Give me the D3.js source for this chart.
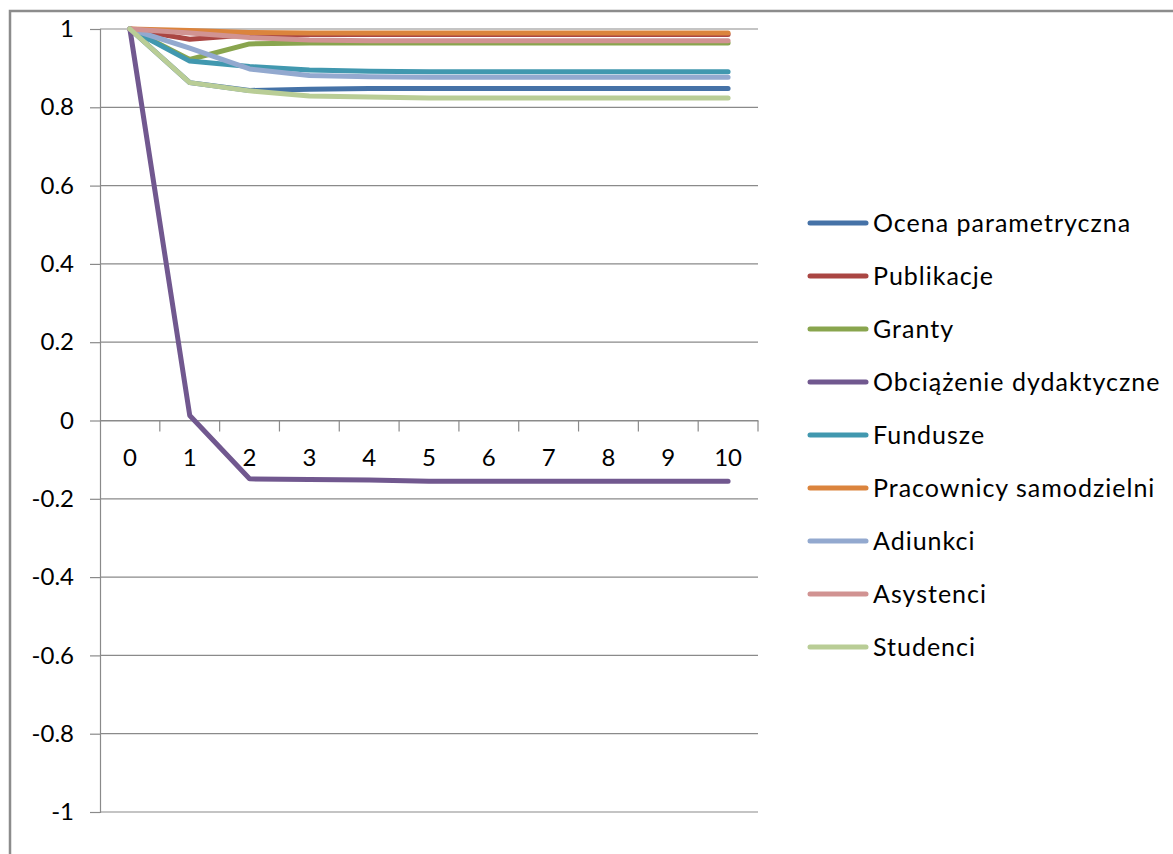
<!DOCTYPE html>
<html>
<head>
<meta charset="utf-8">
<script src="https://cdn.jsdelivr.net/npm/d3@7"></script>
<style>
  html, body { margin: 0; padding: 0; background: #fff; }
  svg { display: block; }
  text { font-family: Lato, "Open Sans", sans-serif; fill: #000; }
</style>
</head>
<body>
<svg id="chart" width="1173" height="854"></svg>
<script>
// ---- data ----
const categories = ["0","1","2","3","4","5","6","7","8","9","10"];
const yTicks = [-1, -0.8, -0.6, -0.4, -0.2, 0, 0.2, 0.4, 0.6, 0.8, 1];

const seriesNames = ["Ocena parametryczna","Publikacje","Granty","Obciążenie dydaktyczne","Fundusze","Pracownicy samodzielni","Adiunkci","Asystenci","Studenci"];
const seriesColors = ["#4572A7","#AA4643","#89A54E","#71588F","#4198AF","#DB843D","#93A9CF","#D19392","#B9CD96"];

const ocena      = [1, 0.863, 0.843, 0.846, 0.848, 0.848, 0.848, 0.848, 0.848, 0.848, 0.848];
const publikacje = [1, 0.974, 0.985, 0.986, 0.986, 0.986, 0.986, 0.986, 0.986, 0.986, 0.986];
const granty     = [1, 0.922, 0.962, 0.964, 0.964, 0.964, 0.964, 0.964, 0.964, 0.964, 0.964];
const obciazenie = [1, 0.013, -0.149, -0.151, -0.152, -0.155, -0.155, -0.155, -0.155, -0.155, -0.155];
const fundusze   = [1, 0.918, 0.904, 0.895, 0.892, 0.891, 0.891, 0.891, 0.891, 0.891, 0.891];
const pracownicy = [1, 0.996, 0.991, 0.990, 0.990, 0.990, 0.990, 0.990, 0.990, 0.990, 0.990];
const adiunkci   = [1, 0.951, 0.898, 0.881, 0.878, 0.877, 0.877, 0.877, 0.877, 0.877, 0.877];
const asystenci  = [1, 0.990, 0.978, 0.972, 0.970, 0.970, 0.970, 0.970, 0.970, 0.970, 0.970];
const studenci   = [1, 0.863, 0.842, 0.829, 0.826, 0.824, 0.824, 0.824, 0.824, 0.824, 0.824];

const seriesValues = [ocena, publikacje, granty, obciazenie, fundusze, pracownicy, adiunkci, asystenci, studenci];

// ---- layout ----
const svg = d3.select("#chart");
const plotLeft = 100, plotRight = 758, plotTop = 29, plotBottom = 812;

svg.append("rect").attr("width", 1173).attr("height", 854).attr("fill", "#fff");

// outer chart border (open at right/bottom, as in the reference crop)
svg.append("path")
  .attr("d", "M10,854 L10,11 L1173,11")
  .attr("fill", "none").attr("stroke", "#8c8c8c").attr("stroke-width", 2.5);

const x = d3.scaleBand().domain(categories).range([plotLeft, plotRight]).padding(0);
const y = d3.scaleLinear().domain([-1, 1]).range([plotBottom, plotTop]);

// gridlines
svg.append("g")
  .selectAll("line").data(yTicks).join("line")
  .attr("x1", plotLeft).attr("x2", plotRight)
  .attr("y1", d => y(d)).attr("y2", d => y(d))
  .attr("stroke", "#8a8a8a").attr("stroke-width", 1.2);

// y axis
const fmt = d => String(+d.toFixed(1));
const yAxis = svg.append("g").attr("transform", `translate(${plotLeft},0)`)
  .call(d3.axisLeft(y).tickValues(yTicks).tickFormat(fmt).tickSize(10).tickPadding(16));
yAxis.select(".domain").attr("stroke", "#8a8a8a").attr("stroke-width", 1.2);
yAxis.selectAll(".tick line").attr("stroke", "#8a8a8a").attr("stroke-width", 1.2);
yAxis.selectAll(".tick text").style("font-size", "24px").attr("fill", "#000").attr("font-family", "Lato");

// x axis at y=0
const xAxis = svg.append("g").attr("transform", `translate(0,${y(0)})`)
  .call(d3.axisBottom(x).tickSize(0).tickPadding(28));
xAxis.select(".domain").attr("stroke", "#8a8a8a").attr("stroke-width", 1.2);
xAxis.selectAll(".tick text").style("font-size", "24px").attr("fill", "#000").attr("font-family", "Lato");
// tick marks between categories
const boundaries = categories.map(c => x(c) + x.bandwidth());
xAxis.append("g").selectAll("line").data(boundaries).join("line")
  .attr("x1", d => d).attr("x2", d => d)
  .attr("y1", 0).attr("y2", 11)
  .attr("stroke", "#8a8a8a").attr("stroke-width", 1.2);

// lines
const line = d3.line()
  .x((d, i) => x(categories[i]) + x.bandwidth() / 2)
  .y(d => y(d));

svg.append("g").selectAll("path").data(seriesValues).join("path")
  .attr("d", d => line(d))
  .attr("fill", "none")
  .attr("stroke", (d, i) => seriesColors[i])
  .attr("stroke-width", 5)
  .attr("stroke-linecap", "round")
  .attr("stroke-linejoin", "round");

// legend
const lg = svg.append("g");
const rowY = d3.scaleLinear().domain([0, seriesNames.length - 1]).range([223, 647]);
const items = lg.selectAll("g").data(seriesNames).join("g")
  .attr("transform", (d, i) => `translate(0,${rowY(i)})`);
items.append("line")
  .attr("x1", 810).attr("x2", 866).attr("y1", 0).attr("y2", 0)
  .attr("stroke", (d, i) => seriesColors[i])
  .attr("stroke-width", 5).attr("stroke-linecap", "round");
items.append("text")
  .attr("x", 873).attr("y", 0).attr("dy", "0.36em")
  .style("font-size", "25px")
  .style("letter-spacing", "1px")
  .text(d => d);
</script>
</body>
</html>
